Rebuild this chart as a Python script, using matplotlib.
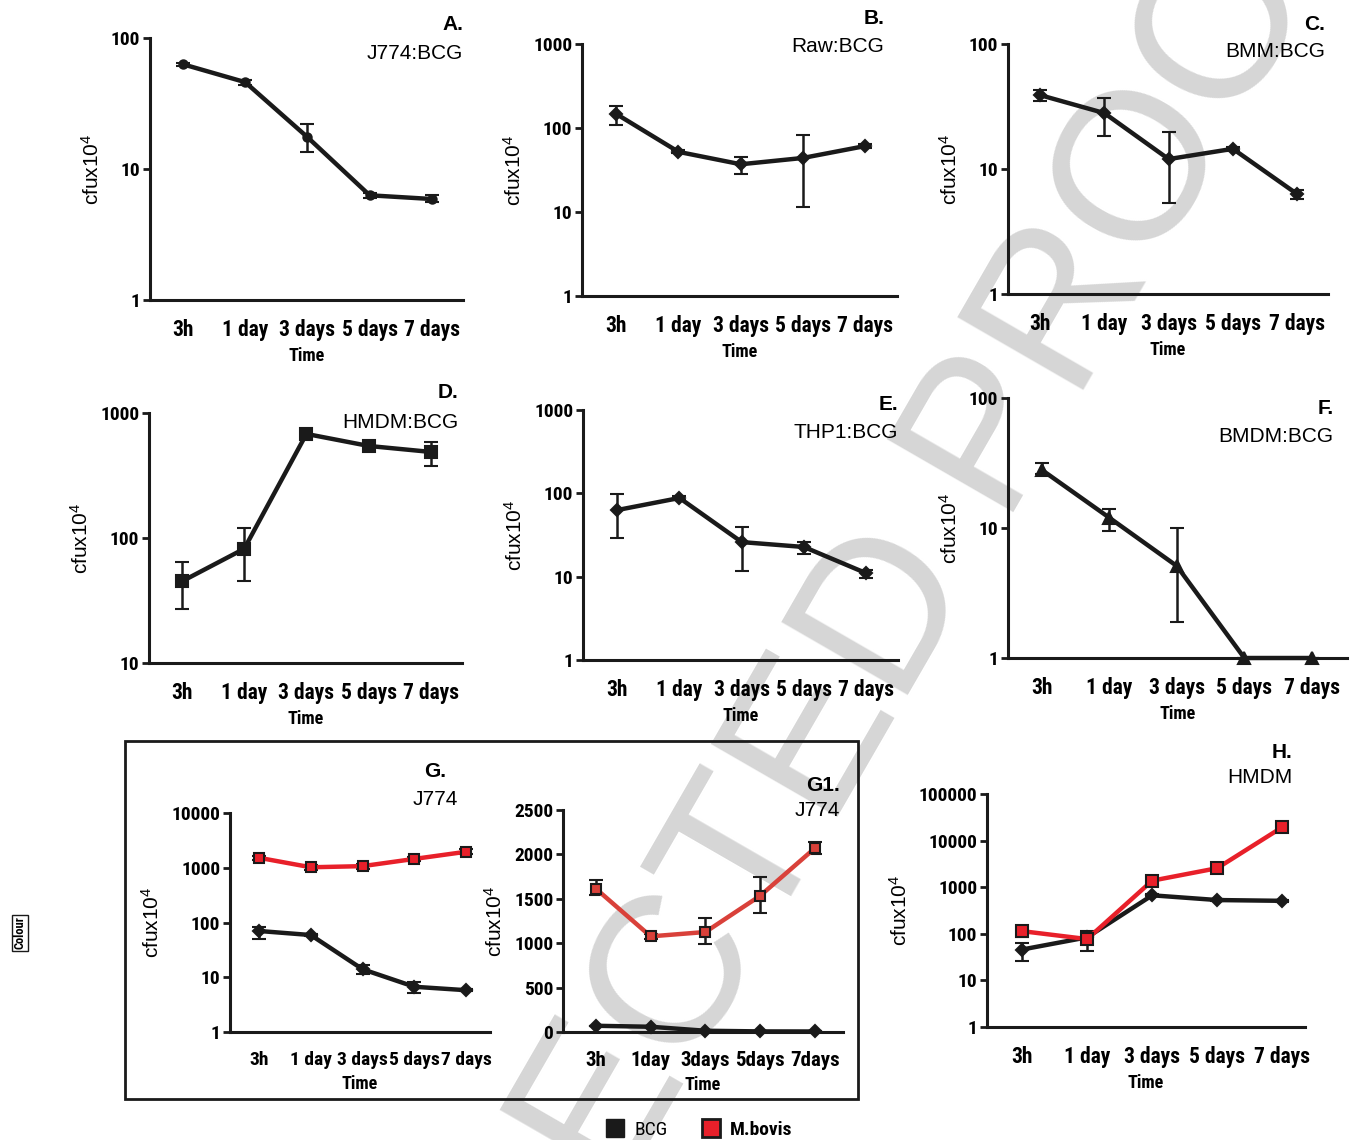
import numpy as np
import matplotlib
matplotlib.use("Agg")
import matplotlib.pyplot as plt
from matplotlib.lines import Line2D
from matplotlib.patches import Rectangle

NARROW = ['Roboto Condensed', 'Archivo Narrow', 'Liberation Sans']
plt.rcParams['font.family'] = ['Liberation Sans', 'DejaVu Sans']
plt.rcParams['mathtext.default'] = 'regular'

W, H = 1352, 1140

times = ["3h", "1 day", "3 days", "5 days", "7 days"]
times_g1 = ["3h", "1day", "3days", "5days", "7days"]

# panel A  J774:BCG
a_val = [63, 46, 17.5, 6.3, 5.9]
a_lo = [61, 44, 13.5, 6.0, 5.6]
a_hi = [65, 48, 22, 6.6, 6.3]
# panel B  Raw:BCG
b_val = [147, 52, 37, 44, 61]
b_lo = [108, 50, 28, 11.5, 58]
b_hi = [182, 55, 45, 82, 64]
# panel C  BMM:BCG
c_val = [39, 28, 12, 14.5, 6.3]
c_lo = [35, 18.4, 5.3, 14, 5.8]
c_hi = [43, 37, 19.8, 15, 6.8]
# panel D  HMDM:BCG
d_val = [45, 82, 680, 545, 488]
d_lo = [27, 45, 650, 520, 377]
d_hi = [64, 120, 710, 570, 586]
# panel E  THP1:BCG
e_val = [63, 88, 26, 22.7, 11]
e_lo = [29, 84, 11.7, 18.7, 9.6]
e_hi = [98, 92, 39.5, 26, 12]
# panel F  BMDM:BCG
f_val = [28, 12, 5.1, 1, 1]
f_lo = [26, 9.5, 1.9, 1, 1]
f_hi = [31.6, 14, 10, 1, 1]
# panel G / G1  J774, BCG vs M.bovis
g_bcg = [70, 59, 14, 6.7, 5.8]
g_bcg_lo = [49, 57, 11.5, 5.2, 5.5]
g_bcg_hi = [83, 61, 17, 8.3, 6.1]
g_mb = [1520, 1020, 1070, 1450, 1960]
g1_mb = [1614, 1077, 1126, 1535, 2072]
g1_mb_lo = [1538, 1047, 994, 1340, 2010]
g1_mb_hi = [1707, 1107, 1284, 1741, 2135]
# panel H  HMDM, BCG vs M.bovis
h_bcg = [46, 84, 670, 530, 510]
h_bcg_lo = [26, 43, 640, 505, 480]
h_bcg_hi = [62, 115, 700, 555, 540]
h_mb = [114, 77, 1380, 2560, 19400]
h_mb_lo = [86, 70, 1300, 2450, 18500]
h_mb_hi = [148, 84, 1460, 2680, 20400]

RED = '#e8202a'
RED2 = '#d9413a'
INK = '#1a1a1a'

fig = plt.figure(figsize=(W / 100, H / 100), dpi=100)

# watermark behind everything
fig.text(797 / W, 1 - 779 / H, "CORRECTED PROOF", fontsize=152, color='#d6d6d6',
         rotation=60, rotation_mode='anchor', ha='center', va='center',
         zorder=-5)


def make_ax(x0, x1, ytop, ybot):
    ax = fig.add_axes([x0 / W, 1 - ybot / H, (x1 - x0) / W, (ybot - ytop) / H])
    ax.set_facecolor('none')
    for s in ['top', 'right']:
        ax.spines[s].set_visible(False)
    for s in ['left', 'bottom']:
        ax.spines[s].set_linewidth(2.2)
        ax.spines[s].set_color(INK)
    ax.tick_params(axis='y', length=5, width=2, color=INK, pad=2)
    ax.tick_params(axis='x', length=0, pad=14)
    return ax


def style(ax, xlim, ylim, ticks, labels, xl=times, log=True, xs=15.5):
    if log:
        ax.set_yscale('log')
    ax.set_xlim(*xlim)
    ax.set_ylim(*ylim)
    ax.set_yticks(ticks)
    ax.set_yticklabels(labels, fontweight='bold', family=NARROW, fontsize=14)
    ax.minorticks_off()
    ax.set_xticks(range(5))
    ax.set_xticklabels(xl, fontweight='bold', family=NARROW, fontsize=xs)
    ax.set_xlabel("Time", fontsize=13, fontweight='bold', family=NARROW, labelpad=4)
    ax.set_ylabel(r"cfux10$^{4}$", fontsize=15, labelpad=6)


def series(ax, val, lo, hi, color=INK, marker='D', ms=6, mfc=None, lw=3.2):
    x = np.arange(len(val))
    val = np.array(val)
    err = [val - np.array(lo), np.array(hi) - val]
    ax.errorbar(x, val, yerr=err, color=color, lw=lw, marker=marker, ms=ms,
                mfc=mfc if mfc else color, mec=INK, mew=1.5,
                ecolor=INK, elinewidth=1.8, capsize=5, capthick=1.8,
                clip_on=False, zorder=3)


def title(ax, letter, name, xf, yl, yn, ha='right'):
    ax.text(xf, yl, letter, transform=ax.transAxes, ha=ha, va='center',
            fontsize=15, fontweight='bold')
    ax.text(xf, yn, name, transform=ax.transAxes, ha=ha, va='center',
            fontsize=15)


# A
ax = make_ax(150, 463, 38, 300)
series(ax, a_val, a_lo, a_hi, marker='o', ms=6)
style(ax, (-0.53, 4.5), (1, 100), [1, 10, 100], ["1", "10", "100"])
title(ax, "A.", "J774:BCG", 1.0, 1.05, 0.94)

# B
ax = make_ax(582, 897, 44, 296)
series(ax, b_val, b_lo, b_hi)
style(ax, (-0.55, 4.51), (1, 1000), [1, 10, 100, 1000], ["1", "10", "100", "1000"])
title(ax, "B.", "Raw:BCG", 0.96, 1.10, 0.99)

# C
ax = make_ax(1008, 1328, 44, 294)
series(ax, c_val, c_lo, c_hi)
style(ax, (-0.5, 4.48), (1, 100), [1, 10, 100], ["1", "10", "100"])
title(ax, "C.", "BMM:BCG", 0.99, 1.08, 0.97)

# D
ax = make_ax(149, 462, 413, 663)
series(ax, d_val, d_lo, d_hi, marker='s', ms=8)
style(ax, (-0.53, 4.5), (10, 1000), [10, 100, 1000], ["10", "100", "1000"])
title(ax, "D.", "HMDM:BCG", 0.99, 1.08, 0.96)

# E
ax = make_ax(583, 898, 410, 660)
series(ax, e_val, e_lo, e_hi)
style(ax, (-0.55, 4.51), (1, 1000), [1, 10, 100, 1000], ["1", "10", "100", "1000"])
title(ax, "E.", "THP1:BCG", 1.0, 1.02, 0.91)

# F
ax = make_ax(1008, 1347, 398, 658)
series(ax, f_val, f_lo, f_hi, marker='^', ms=8)
style(ax, (-0.5, 4.52), (1, 100), [1, 10, 100], ["1", "10", "100"])
title(ax, "F.", "BMDM:BCG", 0.96, 0.96, 0.85)

# G
ax = make_ax(230, 490, 813, 1032)
series(ax, g_bcg, g_bcg_lo, g_bcg_hi)
series(ax, g_mb, np.array(g_mb) * 0.9, np.array(g_mb) * 1.1, color=RED, marker='s', ms=7)
style(ax, (-0.56, 4.46), (1, 10000), [1, 10, 100, 1000, 10000],
      ["1", "10", "100", "1000", "10000"], xs=14)
title(ax, "G.", "J774", 0.79, 1.19, 1.06, ha='center')

# G1
ax = make_ax(563, 843, 810, 1032)
series(ax, g_bcg, g_bcg, g_bcg)
series(ax, g1_mb, g1_mb_lo, g1_mb_hi, color=RED2, marker='s', ms=7)
style(ax, (-0.6, 4.51), (0, 2500), [0, 500, 1000, 1500, 2000, 2500],
      ["0", "500", "1000", "1500", "2000", "2500"], xl=times_g1, log=False, xs=15)
title(ax, "G1.", "J774", 0.99, 1.11, 1.0)

# H
ax = make_ax(987, 1305, 794, 1027)
series(ax, h_bcg, h_bcg_lo, h_bcg_hi)
series(ax, h_mb, h_mb_lo, h_mb_hi, color=RED, marker='s', ms=8)
style(ax, (-0.54, 4.35), (1, 100000), [1, 10, 100, 1000, 10000, 100000],
      ["1", "10", "100", "1000", "10000", "100000"])
title(ax, "H.", "HMDM", 0.96, 1.18, 1.07)

# box around G and G1
fig.patches.append(Rectangle((125 / W, 1 - 1099 / H), (858 - 125) / W, (1099 - 741) / H,
                             transform=fig.transFigure, fill=False, lw=2, ec=INK))

# legend
handles = [Line2D([], [], ls='none', marker='s', ms=13, mfc=INK, mec=INK),
           Line2D([], [], ls='none', marker='s', ms=13, mfc=RED, mec=INK, mew=2)]
leg = fig.legend(handles, ["BCG", "M.bovis"], ncol=2, frameon=False,
                 loc='center', bbox_to_anchor=(698 / W, 1 - 1130 / H),
                 prop={'family': NARROW, 'size': 14}, handletextpad=0.4,
                 columnspacing=1.6, handlelength=1.2)
leg.get_texts()[1].set_fontweight('bold')

# Colour tag
fig.text(20 / W, 1 - 933 / H, "Colour", rotation=90, ha='center', va='center',
         fontsize=9, fontweight='bold', family=NARROW,
         bbox=dict(boxstyle='square,pad=0.15', fc='white', ec=INK, lw=1))

fig.savefig("out.png", dpi=100)
